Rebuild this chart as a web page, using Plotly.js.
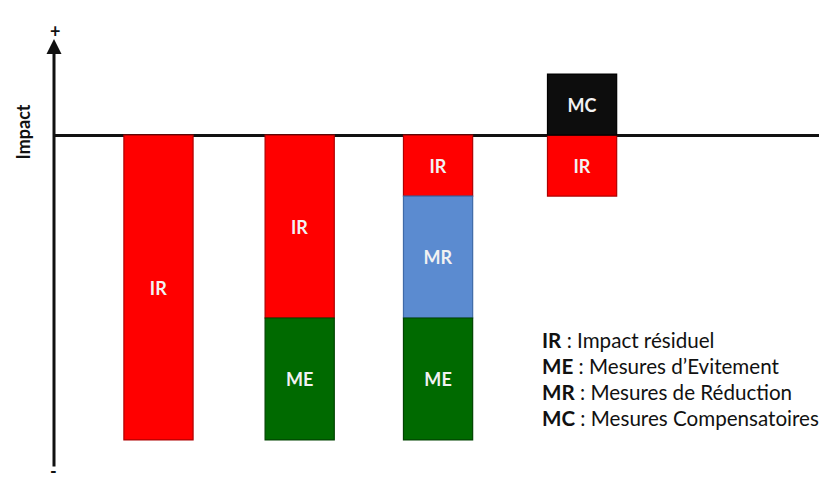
<!DOCTYPE html>
<html><head><meta charset="utf-8">
<script src="https://cdn.plot.ly/plotly-3.0.1.min.js"></script>
<style>body{margin:0;background:#fff}#c{width:819px;height:493px}</style>
</head><body><div id="c"></div>
<script>
// Data (arbitrary impact units; zero = axis line)
const positions = [0, 1, 1.98, 3];
const irValues = [-10, -6, -2, -2];       // Impact résiduel
const mrValues = [null, null, -4, null];  // Mesures de Réduction
const meValues = [null, -4, -4, null];    // Mesures d'Evitement
const mcValues = [null, null, null, 2];   // Mesures Compensatoires
const legendCodes = ["IR", "ME", "MR", "MC"];
const legendLabels = ["Impact résiduel", "Mesures d\u2019Evitement", "Mesures de Réduction", "Mesures Compensatoires"];

const FONT = "Lato, 'Open Sans', sans-serif";
function px(x) { return (x - 54) / 765; }
function py(y) { return 1 - y / 493; }
function seg(vals, label, color, line) {
  return {
    type: 'bar', x: positions, y: vals, width: 0.49,
    text: vals.map(v => v === null ? '' : label),
    textposition: 'inside', insidetextanchor: 'middle', constraintext: 'none',
    textfont: {family: FONT, size: 18, color: '#f2f2f2', weight: 'bold'},
    marker: {color: color, line: {color: line, width: 1.2}},
    hoverinfo: 'skip', showlegend: false
  };
}
const traces = [
  seg(irValues, 'IR', '#ff0000', '#b00000'),
  seg(mrValues, 'MR', '#5b8bd0', '#3f6aa8'),
  seg(meValues, 'ME', '#006a00', '#004400'),
  seg(mcValues, 'MC', '#0d0d0d', '#000000')
];

const legendY = [340, 366, 392, 418];
const annotations = legendCodes.map((c, i) => ({
  xref: 'paper', yref: 'paper', x: px(540), y: py(legendY[i]),
  xanchor: 'left', yanchor: 'middle', showarrow: false,
  text: '<b>' + c + '</b> : ' + legendLabels[i],
  font: {family: FONT, size: 20.6, color: '#111'}
}));
annotations.push({xref:'paper', yref:'paper', x:0, y:py(39), ax:0, ay:429,
  showarrow:true, arrowhead:2, arrowsize:1, arrowwidth:3, arrowcolor:'#111', text:''});
annotations.push({xref:'paper', yref:'paper', x:px(48), y:py(18), showarrow:false,
  text:'<b>+</b>', font:{family:FONT, size:18, color:'#111'}});
annotations.push({xref:'paper', yref:'paper', x:px(48), y:py(484), showarrow:false,
  text:'<b>-</b>', font:{family:FONT, size:18, color:'#111'}});
annotations.push({xref:'paper', yref:'paper', x:px(9), y:py(103), showarrow:false,
  textangle:-90, text:'<b>Impact</b>', font:{family:FONT, size:18, color:'#111'}});

const layout = {
  width: 819, height: 493,
  margin: {l: 54, r: 0, t: 0, b: 0},
  paper_bgcolor: '#fff', plot_bgcolor: '#fff',
  barmode: 'relative',
  xaxis: {range: [-0.74, 4.678], visible: false, fixedrange: true},
  yaxis: {range: [-11.74, 4.43], showgrid: false, showticklabels: false, ticks: '',
          zeroline: true, zerolinecolor: '#111', zerolinewidth: 3, showline: false, fixedrange: true},
  annotations: annotations
};
Plotly.newPlot('c', traces, layout, {staticPlot: true});
</script></body></html>
